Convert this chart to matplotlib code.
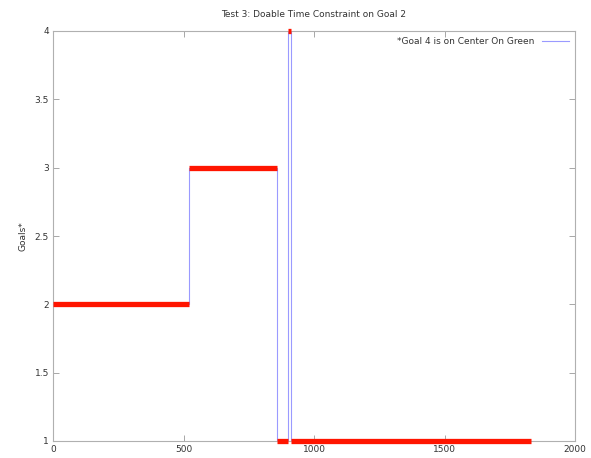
import matplotlib
matplotlib.use("Agg")
import matplotlib.pyplot as plt

# Goal reached over time: constant runs of samples
seg_start = [0, 520, 860, 900, 912]
seg_end = [520, 860, 900, 912, 1830]
seg_goal = [2, 3, 1, 4, 1]

x_ticks = [0, 500, 1000, 1500, 2000]
x_labels = ["0", "500", "1000", "1500", "2000"]
y_ticks = [1, 1.5, 2, 2.5, 3, 3.5, 4]
y_labels = ["1", "1.5", "2", "2.5", "3", "3.5", "4"]

fig = plt.figure(figsize=(5.91, 4.58), dpi=100)
ax = fig.add_axes([53 / 591, 1 - 441 / 458, 522 / 591, 410 / 458])

# blue step line through all samples
step_x = seg_start + [seg_end[-1]]
step_y = seg_goal + [seg_goal[-1]]
ax.step(step_x, step_y, where="post", color="#9a9aff", lw=0.8,
        label="*Goal 4 is on Center On Green", zorder=2, clip_on=False)

# dense red sample points drawn as thick runs
for s, e, g in zip(seg_start, seg_end, seg_goal):
    ax.plot([s, e], [g, g], color="#ff1500", lw=3.8, solid_capstyle="butt",
            zorder=3, clip_on=False)

ax.set_xlim(0, 2000)
ax.set_ylim(1, 4)
ax.set_xticks(x_ticks)
ax.set_xticklabels(x_labels)
ax.set_yticks(y_ticks)
ax.set_yticklabels(y_labels)
ax.tick_params(direction="in", length=4, width=0.6, color="#999999",
               labelsize=6.5, labelcolor="#333333", top=True, right=True, pad=3)
for sp in ax.spines.values():
    sp.set_color("#b0b0b0")
    sp.set_linewidth(0.8)

ax.set_title("Test 3: Doable Time Constraint on Goal 2", fontsize=6.5,
             color="#333333", pad=10)
ax.set_ylabel("Goals*", fontsize=6.5, color="#333333", labelpad=5)

ax.legend(loc="upper right", frameon=False, fontsize=6.5, handlelength=3,
          markerfirst=False, labelcolor="#333333", borderaxespad=0.3)

fig.savefig("out.png", dpi=100)
